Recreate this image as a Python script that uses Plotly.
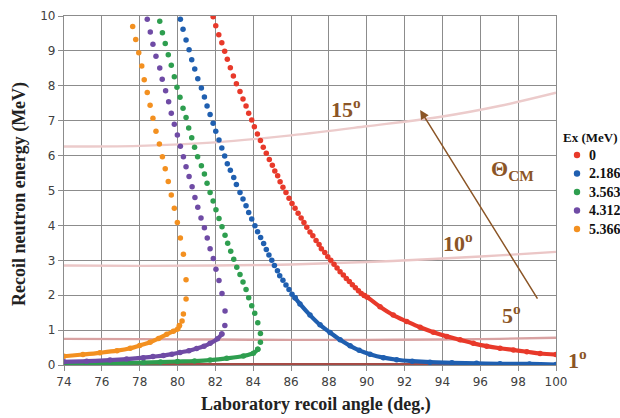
import plotly.graph_objects as go

# ---------------- data ----------------
ex_labels = ["0", "2.186", "3.563", "4.312", "5.366"]
ex_colors = ["#E8392A", "#1F5FB0", "#2E9E4F", "#6F4BA5", "#F39020"]

# Ex = 0 MeV
ex0_ang = [81.88, 82.02, 82.18, 82.34, 82.49, 82.63, 82.79, 82.95, 83.11, 83.30, 83.46, 83.62, 83.76,
           83.92, 84.06, 84.22, 84.38, 84.53, 84.69, 84.85, 85.01, 85.14, 85.29, 85.42, 85.57, 85.73,
           85.89, 86.05, 86.21, 86.37, 86.53, 86.68, 86.83, 87.00, 87.15, 87.32, 87.48, 87.60, 87.78,
           87.94, 88.10, 88.27, 88.43, 88.59, 88.76, 88.92, 89.08, 89.24, 89.40, 89.56, 89.71, 89.87]
ex0_en = [9.98, 9.72, 9.46, 9.23, 8.99, 8.76, 8.52, 8.28, 8.06, 7.84, 7.62, 7.42, 7.21,
          7.02, 6.83, 6.62, 6.43, 6.24, 6.07, 5.89, 5.72, 5.56, 5.42, 5.25, 5.09, 4.94,
          4.78, 4.63, 4.49, 4.35, 4.21, 4.08, 3.95, 3.81, 3.70, 3.57, 3.45, 3.33, 3.22,
          3.10, 3.00, 2.89, 2.78, 2.67, 2.58, 2.48, 2.39, 2.30, 2.21, 2.13, 2.05, 1.99]
ex0_ang_dense = [89.87, 90.03, 90.70, 91.40, 92.11, 92.82, 93.52, 94.23, 94.93, 95.63, 96.34, 97.04,
                 97.75, 98.46, 99.16, 100.0]
ex0_en_dense = [1.99, 1.94, 1.67, 1.43, 1.25, 1.08, 0.94, 0.82, 0.72, 0.62, 0.54, 0.48,
                0.43, 0.38, 0.33, 0.30]

# Ex = 2.186 MeV
ex1_ang = [80.15, 80.29, 80.45, 80.61, 80.75, 80.91, 81.07, 81.26, 81.42, 81.56, 81.72, 81.88, 82.02,
           82.19, 82.34, 82.49, 82.63, 82.79, 82.97, 83.11, 83.30, 83.46, 83.62, 83.76, 83.92, 84.09,
           84.23, 84.39, 84.55, 84.69, 84.83, 84.98, 85.12, 85.28, 85.40, 85.57, 85.73, 85.89, 86.05,
           86.21]
ex1_en = [9.91, 9.62, 9.31, 9.03, 8.75, 8.48, 8.20, 7.94, 7.68, 7.42, 7.18, 6.93, 6.70,
          6.45, 6.22, 5.99, 5.77, 5.58, 5.37, 5.17, 4.94, 4.76, 4.56, 4.37, 4.18, 3.99,
          3.82, 3.65, 3.48, 3.31, 3.15, 3.00, 2.85, 2.70, 2.56, 2.43, 2.29, 2.16, 2.03,
          1.93]
ex1_ang_dense = [86.21, 86.47, 87.00, 87.53, 88.06, 88.59, 89.12, 89.60, 90.17, 90.88, 91.58, 92.40,
                 93.34, 94.50, 95.80, 97.04, 98.60, 100.0]
ex1_en_dense = [1.93, 1.75, 1.43, 1.15, 0.93, 0.72, 0.55, 0.42, 0.31, 0.21, 0.15, 0.11,
                0.08, 0.065, 0.05, 0.035, 0.03, 0.015]

# Ex = 3.563 MeV
ex2_ang = [79.06, 79.20, 79.35, 79.51, 79.67, 79.83, 79.97, 80.13, 80.29, 80.45, 80.59, 80.75,
           80.90, 81.06, 81.26, 81.42, 81.56, 81.72, 81.88, 82.03, 82.19, 82.35, 82.51, 82.65,
           82.81, 82.97, 83.13, 83.30, 83.46, 83.62, 83.76, 83.92, 84.08, 84.24, 84.38, 84.38, 84.24]
ex2_en = [9.85, 9.52, 9.21, 8.89, 8.59, 8.26, 7.96, 7.67, 7.36, 7.09, 6.79, 6.51,
          6.24, 5.97, 5.71, 5.47, 5.21, 4.94, 4.70, 4.45, 4.20, 3.96, 3.72, 3.49,
          3.26, 3.03, 2.80, 2.59, 2.38, 2.16, 1.93, 1.70, 1.48, 1.21, 0.90, 0.65, 0.45]
ex2_ang_dense = [84.24, 84.01, 83.48, 82.60, 81.72, 80.90, 80.00, 79.10, 78.20, 77.30, 76.40, 75.20, 74.0]
ex2_en_dense = [0.45, 0.34, 0.26, 0.19, 0.14, 0.115, 0.10, 0.085, 0.07, 0.06, 0.05, 0.04, 0.03]

# Ex = 4.312 MeV
ex3_ang = [78.40, 78.56, 78.70, 78.86, 79.06, 79.19, 79.37, 79.53, 79.67, 79.83, 79.99, 80.15,
           80.31, 80.45, 80.61, 80.77, 80.92, 81.07, 81.24, 81.42, 81.57, 81.72, 81.89, 82.03,
           82.19, 82.35, 82.51, 82.50, 82.34]
ex3_en = [9.91, 9.54, 9.19, 8.85, 8.51, 8.19, 7.86, 7.54, 7.21, 6.90, 6.59, 6.27,
          5.97, 5.68, 5.40, 5.11, 4.80, 4.52, 4.21, 3.93, 3.64, 3.33, 3.05, 2.74,
          2.42, 2.05, 1.55, 1.13, 0.89]
ex3_ang_dense = [82.34, 82.11, 81.72, 81.40, 81.01, 80.60, 80.13, 79.70, 79.25, 78.70, 78.19, 77.31,
                 76.43, 75.20, 74.0]
ex3_en_dense = [0.89, 0.75, 0.62, 0.54, 0.47, 0.41, 0.36, 0.31, 0.27, 0.24, 0.21, 0.17,
                0.14, 0.11, 0.09]

# Ex = 5.366 MeV
ex4_ang = [77.63, 77.79, 77.95, 78.11, 78.24, 78.40, 78.55, 78.70, 78.86, 79.04, 79.20, 79.35,
           79.51, 79.67, 79.83, 79.99, 80.15, 80.31, 80.45, 80.45, 80.31, 80.24, 80.10]
ex4_en = [9.70, 9.33, 8.95, 8.57, 8.17, 7.81, 7.44, 7.07, 6.70, 6.33, 5.97, 5.62,
          5.26, 4.87, 4.49, 4.08, 3.64, 3.17, 2.44, 1.89, 1.46, 1.26, 1.13]
ex4_ang_dense = [80.10, 80.01, 79.78, 79.43, 79.00, 78.55, 78.00, 77.50, 76.80, 75.90, 75.00, 74.0]
ex4_en_dense = [1.13, 1.03, 0.97, 0.88, 0.76, 0.65, 0.56, 0.48, 0.41, 0.35, 0.30, 0.25]

# constant centre-of-mass angle lines
cm_labels = ["1", "5", "10", "15"]
cm_colors = ["#A64B45", "#D8A2A2", "#EBC6C6", "#ECCBCB"]
cm_ang = [74, 78, 82, 86, 90, 94, 97, 100]
cm1_en = [0.025, 0.025, 0.025, 0.025, 0.025, 0.025, 0.025, 0.025]
cm5_en = [0.75, 0.74, 0.73, 0.72, 0.72, 0.73, 0.75, 0.78]
cm10_en = [2.85, 2.84, 2.85, 2.88, 2.95, 3.05, 3.14, 3.24]
cm15_en = [6.26, 6.28, 6.38, 6.58, 6.84, 7.12, 7.42, 7.80]

x_ticks = [74, 76, 78, 80, 82, 84, 86, 88, 90, 92, 94, 96, 98, 100]
y_ticks = [0, 1, 2, 3, 4, 5, 6, 7, 8, 9, 10]

# ---------------- figure ----------------
W, H = 620, 418
ML, MT, PW, PH = 64, 16, 492, 349
MR = W - ML - PW
MB = H - MT - PH


def px(xp):
    return (xp - ML) / PW


def py(yp):
    return (MT + PH - yp) / PH


fig = go.Figure()

for en, col in zip([cm1_en, cm5_en, cm10_en, cm15_en], cm_colors):
    fig.add_trace(go.Scatter(x=cm_ang, y=en, mode="lines", line=dict(color=col, width=2.4, shape="spline"),
                             showlegend=False, hoverinfo="skip"))

series = [
    (ex0_ang, ex0_en, ex0_ang_dense, ex0_en_dense),
    (ex1_ang, ex1_en, ex1_ang_dense, ex1_en_dense),
    (ex2_ang, ex2_en, ex2_ang_dense, ex2_en_dense),
    (ex3_ang, ex3_en, ex3_ang_dense, ex3_en_dense),
    (ex4_ang, ex4_en, ex4_ang_dense, ex4_en_dense),
]
for (a, e, ad, ed), col, lab in zip(series, ex_colors, ex_labels):
    fig.add_trace(go.Scatter(x=ad, y=ed, mode="lines", line=dict(color=col, width=4.2, shape="spline"),
                             showlegend=False, hoverinfo="skip"))
    fig.add_trace(go.Scatter(x=a + ad, y=e + ed, mode="markers", name=lab,
                             marker=dict(color=col, size=5.5, line=dict(width=0)), showlegend=False))

serif = "Liberation Serif"
brown = "#8B5526"

axis_common = dict(showgrid=True, gridcolor="#8C8C8C", gridwidth=1.3, showline=True, linecolor="#8C8C8C",
                   linewidth=1.3, mirror=True, ticks="outside", ticklen=5, tickcolor="#8C8C8C", tickwidth=1.3,
                   zeroline=False, automargin=False,
                   tickfont=dict(family="DejaVu Sans", size=12, color="#404040"))

fig.update_layout(
    width=W, height=H,
    margin=dict(l=ML, r=MR, t=MT, b=MB, autoexpand=False),
    paper_bgcolor="white", plot_bgcolor="white",
    showlegend=False,
    xaxis=dict(range=[74, 100], tickvals=x_ticks, ticktext=[str(t) for t in x_ticks], **axis_common),
    yaxis=dict(range=[0, 10], tickvals=y_ticks, ticktext=[str(t) for t in y_ticks], **axis_common),
)


def label(text, xx, yy, size, color, xanchor="center", angle=0):
    fig.add_annotation(x=px(xx), y=py(yy), xref="paper", yref="paper", xanchor=xanchor, yanchor="middle",
                       text=text, showarrow=False, textangle=angle,
                       font=dict(family=serif, size=size, color=color))


# axis titles
label("<b>Laboratory recoil angle (deg.)</b>", 316, 404, 18, "#222")
label("<b>Recoil neutron energy (MeV)</b>", 19, 194, 18, "#222", angle=-90)

# CM angle labels
for txt, xx, yy in [("15", 346, 108), ("10", 458, 242), ("5", 511, 314), ("1", 577, 359)]:
    label("<b>" + txt + "<sup>o</sup></b>", xx, yy, 22, brown)
label("<b>Θ<sub>CM</sub></b>", 512, 170, 22, brown)

# arrow
fig.add_annotation(x=92.82, y=7.31, ax=99.07, ay=1.86, xref="x", yref="y", axref="x", ayref="y",
                   text="", showarrow=True, arrowhead=2, arrowsize=1.2, arrowwidth=1.5, arrowcolor=brown)

# manual legend
label("<b>Ex (MeV)</b>", 561, 137, 13, "#111", xanchor="left")
leg_y = [155, 173.5, 192, 210.5, 229]
for lab, col, yy in zip(ex_labels, ex_colors, leg_y):
    cx, cy = px(577), py(yy)
    rx, ry = 3.2 / PW, 3.2 / PH
    fig.add_shape(type="circle", xref="paper", yref="paper", x0=cx - rx, x1=cx + rx, y0=cy - ry, y1=cy + ry,
                  fillcolor=col, line=dict(width=0))
    label("<b>" + lab + "</b>", 587, yy, 14, "#111", xanchor="left")

fig.write_html("out.html", config={"displayModeBar": False},
               post_script="document.body.style.margin='0';document.body.style.overflow='hidden';")
